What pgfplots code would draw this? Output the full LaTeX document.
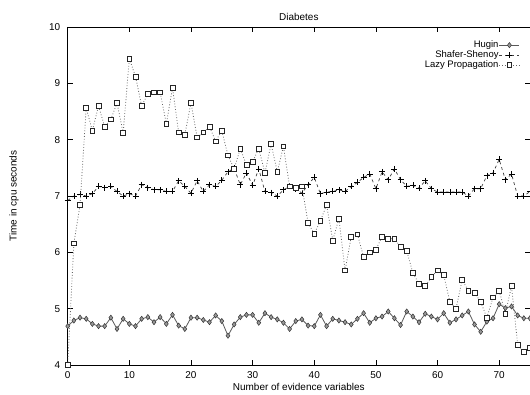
\documentclass[border=0pt]{standalone}
\usepackage{fontspec}
\setmainfont{Liberation Sans}
\usepackage{pgfplots}
\pgfplotsset{compat=1.18}
\definecolor{hug}{gray}{0.35}
\definecolor{hugfill}{gray}{0.6}
\definecolor{lazyc}{gray}{0.4}
\begin{document}
\begin{tikzpicture}
\begin{axis}[
  scale only axis, width=462.3bp, height=338bp,
  xmin=0, xmax=75, ymin=4, ymax=10,
  xtick={0,10,...,70}, ytick={4,5,...,10},
  tick align=inside, major tick length=5bp,
  tick style={black, line width=0.5bp},
  axis line style={black, line width=0.7bp},
  font=\fontsize{10}{12}\selectfont,
  /pgf/number format/assume math mode=true,
  ticklabel style={font=\fontsize{10}{12}\selectfont},
  yticklabel style={xshift=-4bp},
  xticklabel style={yshift=-3bp},
  every axis title/.style={at={(rel axis cs:0.5,1)},yshift=10.3bp,anchor=center},
  every axis x label/.style={at={(rel axis cs:0.5,0)},yshift=-22bp,anchor=center},
  every axis y label/.style={at={(rel axis cs:0,0.5)},xshift=-53.7bp,rotate=90,anchor=center},
  title={Diabetes},
  xlabel={Number of evidence variables},
  ylabel={Time in cpu seconds},
  clip mode=individual,
  legend plot pos=right,
  legend cell align=right,
  legend style={draw=none, fill=none, at={(rel axis cs:1,1)}, anchor=north east,
    xshift=-7bp, yshift=-11bp, row sep=0bp,
    nodes={inner sep=0.5bp, text height=6.9bp, text depth=2bp},
    font=\fontsize{9.5}{11}\selectfont},
  legend image code/.code={\draw[mark repeat=2,mark phase=2,#1] plot coordinates {(0bp,0bp)(10bp,0bp)(20bp,0bp)};},
]
\addplot[hug, line width=0.8bp, mark=diamond*, mark size=2.6bp,
  mark options={solid, fill=hugfill, draw=black!80, line width=0.5bp}] coordinates {
(0,4.69)(1,4.79)(2,4.84)(3,4.82)(4,4.73)(5,4.69)(6,4.69)(7,4.84)(8,4.64)(9,4.82)
(10,4.73)(11,4.69)(12,4.82)(13,4.85)(14,4.76)(15,4.85)(16,4.73)(17,4.89)(18,4.70)(19,4.64)
(20,4.84)(21,4.84)(22,4.80)(23,4.76)(24,4.88)(25,4.78)(26,4.52)(27,4.72)(28,4.85)(29,4.89)
(30,4.89)(31,4.75)(32,4.92)(33,4.85)(34,4.81)(35,4.75)(36,4.64)(37,4.78)(38,4.81)(39,4.70)
(40,4.69)(41,4.89)(42,4.69)(43,4.82)(44,4.79)(45,4.76)(46,4.72)(47,4.82)(48,4.92)(49,4.75)
(50,4.83)(51,4.86)(52,4.95)(53,4.83)(54,4.71)(55,4.95)(56,4.86)(57,4.76)(58,4.91)(59,4.86)
(60,4.81)(61,4.92)(62,4.75)(63,4.81)(64,4.88)(65,4.95)(66,4.72)(67,4.59)(68,4.77)(69,4.83)
(70,5.08)(71,5.01)(72,5.04)(73,4.88)(74,4.83)(75,4.83)};
\addlegendentry{Hugin}
\addplot[black!75, dashed, line width=0.7bp, mark=+, mark size=3bp,
  mark options={solid, black, line width=0.7bp}] coordinates {
(0,6.92)(1,7.00)(2,7.03)(3,7.00)(4,7.04)(5,7.17)(6,7.15)(7,7.17)(8,7.08)(9,7.00)
(10,7.04)(11,7.00)(12,7.20)(13,7.15)(14,7.11)(15,7.11)(16,7.08)(17,7.08)(18,7.27)(19,7.17)
(20,7.05)(21,7.27)(22,7.08)(23,7.20)(24,7.17)(25,7.28)(26,7.43)(27,7.49)(28,7.20)(29,7.41)
(30,7.19)(31,7.48)(32,7.08)(33,7.06)(34,7.00)(35,7.11)(36,7.17)(37,7.13)(38,7.05)(39,7.20)
(40,7.33)(41,7.04)(42,7.07)(43,7.08)(44,7.11)(45,7.08)(46,7.17)(47,7.24)(48,7.33)(49,7.39)
(50,7.13)(51,7.43)(52,7.29)(53,7.48)(54,7.29)(55,7.17)(56,7.19)(57,7.14)(58,7.27)(59,7.13)
(60,7.07)(61,7.07)(62,7.07)(63,7.07)(64,7.07)(65,7.00)(66,7.13)(67,7.13)(68,7.36)(69,7.41)
(70,7.65)(71,7.29)(72,7.39)(73,7.00)(74,7.00)(75,7.08)};
\addlegendentry{Shafer-Shenoy}
\addplot[lazyc, dotted, line width=0.8bp, mark=square*, mark size=2.4bp,
  mark options={solid, fill=white, draw=black!85, line width=0.7bp}] coordinates {
(0,4.00)(1,6.16)(2,6.84)(3,8.56)(4,8.16)(5,8.60)(6,8.23)(7,8.36)(8,8.65)(9,8.12)
(10,9.44)(11,9.12)(12,8.60)(13,8.81)(14,8.84)(15,8.84)(16,8.28)(17,8.92)(18,8.13)(19,8.09)
(20,8.65)(21,8.04)(22,8.13)(23,8.23)(24,7.97)(25,8.16)(26,7.72)(27,7.48)(28,7.84)(29,7.55)
(30,7.61)(31,7.84)(32,7.41)(33,7.92)(34,7.43)(35,7.88)(36,7.17)(37,7.15)(38,7.17)(39,6.52)
(40,6.33)(41,6.56)(42,6.84)(43,6.21)(44,6.60)(45,5.68)(46,6.28)(47,6.32)(48,5.92)(49,6.00)
(50,6.05)(51,6.28)(52,6.24)(53,6.24)(54,6.10)(55,6.03)(56,5.63)(57,5.44)(58,5.40)(59,5.56)
(60,5.68)(61,5.60)(62,5.12)(63,5.00)(64,5.51)(65,5.32)(66,5.28)(67,5.12)(68,4.84)(69,5.20)
(70,5.32)(71,4.91)(72,5.40)(73,4.36)(74,4.23)(75,4.30)};
\addlegendentry{Lazy Propagation}
\coordinate (ll) at (rel axis cs:0,0);
\coordinate (ur) at (rel axis cs:1,1);
\end{axis}
\pgfresetboundingbox
\path ([xshift=-67.7bp,yshift=-29bp]ll) rectangle ([yshift=27bp]ur);
\end{tikzpicture}
\end{document}
